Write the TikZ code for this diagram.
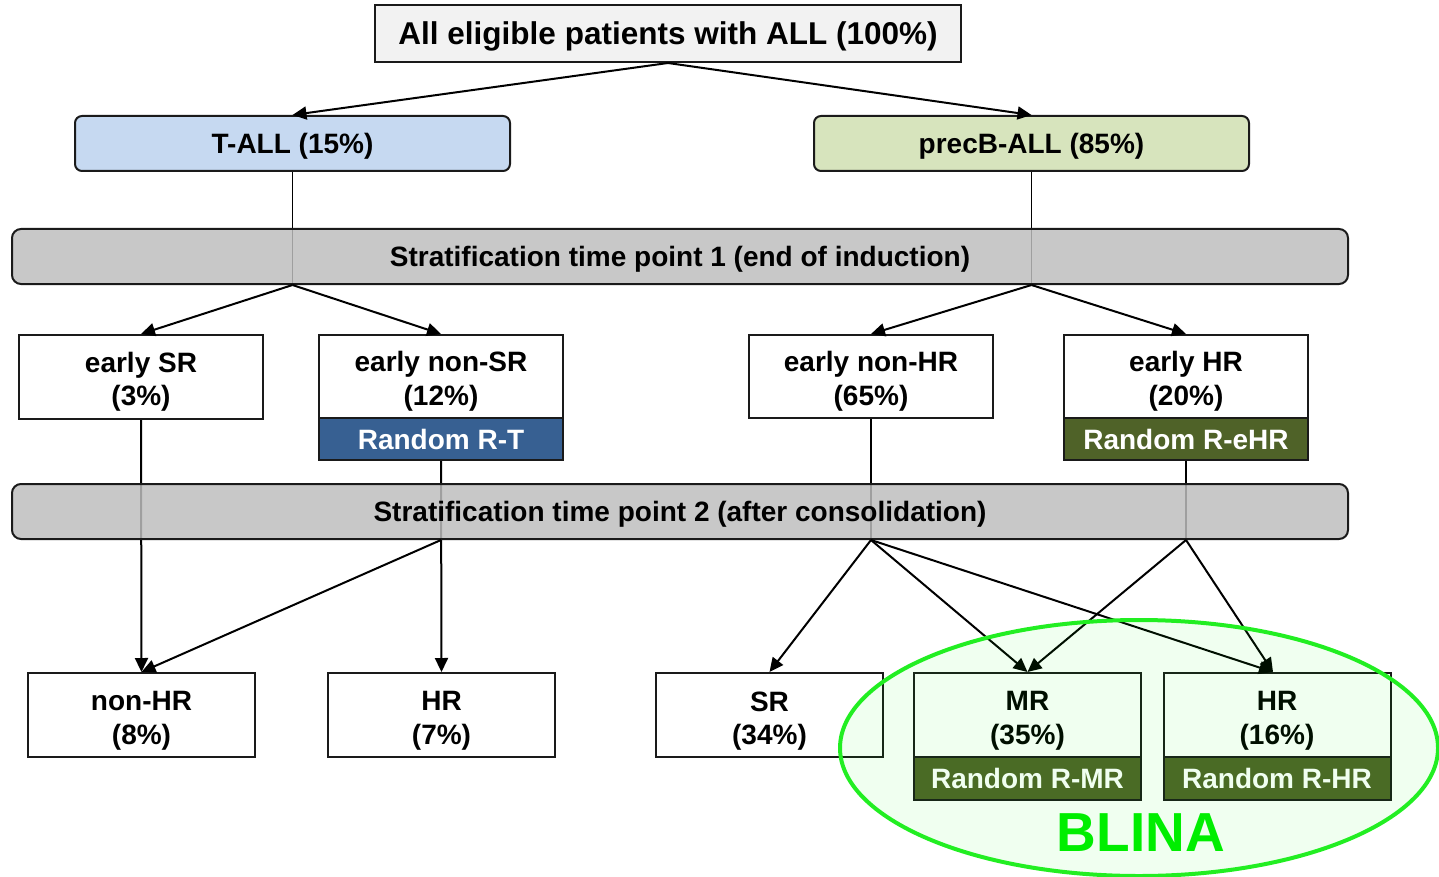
\documentclass[tikz,border=0pt]{standalone}
\usepackage{fontspec}
\setmainfont{Liberation Sans}
\usetikzlibrary{arrows.meta,calc}
\definecolor{topfill}{HTML}{F2F2F2}
\definecolor{tfill}{HTML}{C6D9F1}
\definecolor{bfill}{HTML}{D7E4BD}
\definecolor{bandfill}{HTML}{BEBEBE}
\definecolor{rtblue}{HTML}{376092}
\definecolor{rgreen}{HTML}{4F6228}
\definecolor{blinagreen}{HTML}{22EE22}
\definecolor{blinatext}{HTML}{00EE00}
\definecolor{boxline}{HTML}{1A1A1A}
\tikzset{
  txt/.style={font=\fontsize{28}{33.5}\selectfont\bfseries, align=center, inner sep=0pt, text depth=0pt},
  box/.style={txt, draw=boxline, line width=2pt, fill=white},
  topbox/.style={box, fill=topfill, font=\fontsize{31.5}{36}\selectfont\bfseries},
  groupbox/.style={box, rounded corners=7pt},
  band/.style={txt, draw=boxline, line width=2pt, fill=bandfill, fill opacity=0.84, text opacity=1, rounded corners=9pt, minimum width=1336pt, minimum height=55pt},
  riskbox/.style={box, minimum width=244pt, minimum height=83pt},
  endbox/.style={box, minimum width=227pt, minimum height=84pt},
  randbox/.style={box, text=white},
  arr/.style={line width=2pt, -{Triangle[length=14pt,width=13pt]}},
  plain/.style={line width=1.3pt},
}
\begin{document}
\begin{tikzpicture}[x=1pt,y=-1pt]
\useasboundingbox (0,0) rectangle (1439,877);

% nodes
\node[topbox, minimum width=586pt, minimum height=57pt] (all) at (668,33.5) {All eligible patients with ALL (100\%)};
\node[groupbox, fill=tfill, minimum width=435pt, minimum height=55pt] (tall) at (292.5,143.5) {T-ALL (15\%)};
\node[groupbox, fill=bfill, minimum width=435pt, minimum height=55pt] (ball) at (1031.5,143.5) {precB-ALL (85\%)};

\node[riskbox, minimum height=84pt] (esr) at (141,377) {};
\node[txt] (esrt) at ($(esr.center)+(0,2)$) {early SR\\(3\%)};
\node[riskbox] (ensr) at (441,376.5) {};
\node[txt] (ensrt) at ($(ensr.center)+(0,2)$) {early non-SR\\(12\%)};
\node[randbox, fill=rtblue, minimum width=244pt, minimum height=42pt] (rt) at (441,439) {Random R-T};
\node[riskbox] (enhr) at (871,376.5) {};
\node[txt] (enhrt) at ($(enhr.center)+(0,2)$) {early non-HR\\(65\%)};
\node[riskbox] (ehr) at (1186,376.5) {};
\node[txt] (ehrt) at ($(ehr.center)+(0,2)$) {early HR\\(20\%)};
\node[randbox, fill=rgreen, minimum width=244pt, minimum height=42pt] (rehr) at (1186,439) {Random R-eHR};

\node[endbox] (nonhr) at (141.5,715) {};
\node[txt] (nonhrt) at ($(nonhr.center)+(0,3)$) {non-HR\\(8\%)};
\node[endbox] (hrseven) at (441.5,715) {};
\node[txt] (hrsevent) at ($(hrseven.center)+(0,3)$) {HR\\(7\%)};
\node[endbox] (sr) at (769.5,715) {};
\node[txt] (srt) at ($(sr.center)+(0,3)$) {SR\\(34\%)};
\node[endbox] (mr) at (1027.5,715) {};
\node[txt] (mrt) at ($(mr.center)+(0,3)$) {MR\\(35\%)};
\node[randbox, fill=rgreen, minimum width=227pt, minimum height=43pt] (rmr) at (1027.5,778.5) {Random R-MR};
\node[endbox] (hrsixteen) at (1277,715) {};
\node[txt] (hrsixteent) at ($(hrsixteen.center)+(0,3)$) {HR\\(16\%)};
\node[randbox, fill=rgreen, minimum width=227pt, minimum height=43pt] (rhr) at (1277,778.5) {Random R-HR};

% connectors drawn under the bands
\coordinate (s1b) at (680,284);
\coordinate (s2b) at (680,539);

\draw[arr] (all.south) -- (tall.north);
\draw[arr] (all.south) -- (ball.north);
\draw[plain] (tall.south) -- (tall.south |- s1b);
\draw[plain] (ball.south) -- (ball.south |- s1b);
\draw[arr] (esr.south) -- (nonhr.north);
\draw[arr] (rt.south) -- (hrseven.north);
\draw[plain] (enhr.south) -- (enhr.south |- s2b);
\draw[plain] (rehr.south) -- (rehr.south |- s2b);

% bands
\node[band] (strat1) at (680,256.5) {Stratification time point 1 (end of induction)};
\node[band] (strat2) at (680,511.5) {Stratification time point 2 (after consolidation)};

% arrows from the bands
\draw[arr] (tall.south |- strat1.south) -- (esr.north);
\draw[arr] (tall.south |- strat1.south) -- (ensr.north);
\draw[arr] (ball.south |- strat1.south) -- (enhr.north);
\draw[arr] (ball.south |- strat1.south) -- (ehr.north);

\draw[arr] (rt.south |- strat2.south) -- (nonhr.north);
\draw[arr] (enhr.south |- strat2.south) -- (sr.north);
\draw[arr] (enhr.south |- strat2.south) -- (mr.north);
\draw[arr] (enhr.south |- strat2.south) -- ([xshift=-4pt]hrsixteen.north);
\draw[arr] (rehr.south |- strat2.south) -- (mr.north);
\draw[arr] (rehr.south |- strat2.south) -- ([xshift=-4pt]hrsixteen.north);

% BLINA ellipse
\draw[draw=blinagreen, line width=4pt, fill=green, fill opacity=0.06] (1139,748) ellipse [x radius=299pt, y radius=128pt];
\node[font=\fontsize{55}{60}\selectfont\bfseries, text=blinatext, inner sep=0pt] (blina) at (1141,833) {BLINA};
\end{tikzpicture}
\end{document}
